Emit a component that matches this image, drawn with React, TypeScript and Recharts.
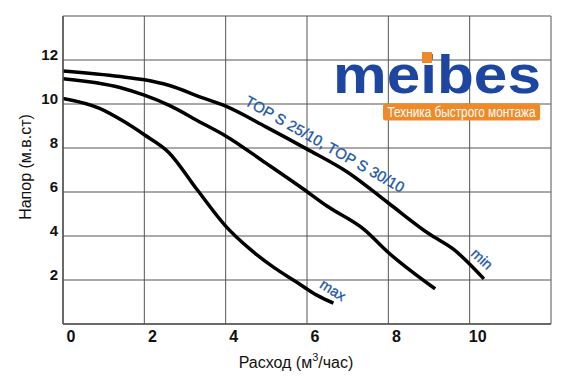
import React from "react";
import { LineChart, Line, XAxis, YAxis, CartesianGrid, Customized } from "recharts";

// Flow (m3/h) and head (m)
const minFlow = [0, 1.4, 2, 2.6, 3.4, 4, 5, 6, 7, 8, 9, 9.6, 10.35];
const minHead = [11.5, 11.25, 11.1, 10.85, 10.3, 9.9, 8.95, 7.95, 6.9, 5.5, 4.1, 3.4, 2.05];

const midFlow = [0, 1.4, 2, 2.6, 3.4, 4, 5, 5.9, 6.5, 7.4, 8, 9.15];
const midHead = [11.15, 10.75, 10.4, 9.95, 9.15, 8.55, 7.3, 6.15, 5.35, 4.3, 3.25, 1.6];

const maxFlow = [0, 0.9, 1.5, 2, 2.6, 3.3, 4, 4.6, 5.2, 5.75, 6.25, 6.65];
const maxHead = [10.25, 9.8, 9.2, 8.6, 7.8, 6.1, 4.45, 3.4, 2.55, 1.9, 1.3, 0.95];

const xTicks = [0, 2, 4, 6, 8, 10, 12];
const xTickLabels = ["0", "2", "4", "6", "8", "10", ""];
const yTicks = [0, 2, 4, 6, 8, 10, 12, 14];
const yTickLabels = ["", "2", "4", "6", "8", "10", "12", ""];

const toRows = (xs: number[], ys: number[]) => xs.map((x, i) => ({ x, y: ys[i] }));
const minData = toRows(minFlow, minHead);
const midData = toRows(midFlow, midHead);
const maxData = toRows(maxFlow, maxHead);

const FONT = "'Liberation Sans', Arial, sans-serif";
const BLUE = "#1a55a8";
const LOGO_BLUE = "#1c46a0";
const ORANGE = "#f08a28";

const XTick = (props: any) => {
  const { x, y, payload } = props;
  const idx = xTicks.indexOf(payload.value);
  const label = idx >= 0 ? xTickLabels[idx] : "";
  if (!label) return null;
  return (
    <text x={x + 8} y={y + 18} textAnchor="middle" fontFamily={FONT} fontWeight="bold" fontSize={16} fill="#111">
      {label}
    </text>
  );
};

const YTick = (props: any) => {
  const { x, y, payload } = props;
  const idx = yTicks.indexOf(payload.value);
  const label = idx >= 0 ? yTickLabels[idx] : "";
  if (!label) return null;
  return (
    <text x={x - 5} y={y} textAnchor="end" fontFamily={FONT} fontWeight="bold" fontSize={15} fill="#111">
      {label}
    </text>
  );
};

const Overlay = () => (
  <g>
    {/* axis titles */}
    <text
      transform="translate(25,167) rotate(-90)"
      textAnchor="middle"
      dominantBaseline="central"
      fontFamily={FONT}
      fontSize={16}
      fill="#111"
    >
      Напор (м.в.ст)
    </text>
    <text x={296} y={368} textAnchor="middle" fontFamily={FONT} fontSize={16} fill="#111">
      Расход (м
      <tspan dy={-7} fontSize={11}>3</tspan>
      <tspan dy={7}>/час)</tspan>
    </text>

    {/* curve annotations */}
    <text transform="translate(325,144) rotate(29.5)" textAnchor="middle" dominantBaseline="central" fontFamily={FONT} fontSize={15} fill={BLUE} stroke={BLUE} strokeWidth={0.3}>
      TOP S 25/10, TOP S 30/10
    </text>
    <text transform="translate(482,259) rotate(43)" textAnchor="middle" dominantBaseline="central" fontFamily={FONT} fontSize={14.5} fill={BLUE} stroke={BLUE} strokeWidth={0.3}>
      min
    </text>
    <text transform="translate(333,290) rotate(32)" textAnchor="middle" dominantBaseline="central" fontFamily={FONT} fontSize={14.5} fill={BLUE} stroke={BLUE} strokeWidth={0.3}>
      max
    </text>

    {/* logo */}
    <text x={333} y={93} fontFamily={FONT} fontWeight="bold" fontSize={54} fill={LOGO_BLUE} textLength={208} lengthAdjust="spacingAndGlyphs">
      meibes
    </text>
    <rect x={422} y={52} width={10} height={11} fill={ORANGE} />
    <rect x={383} y={103.5} width={157} height={17} rx={2.5} fill={ORANGE} />
    <text x={461.5} y={116.5} textAnchor="middle" fontFamily={FONT} fontSize={14} fill="#fff" textLength={148} lengthAdjust="spacingAndGlyphs">
      Техника быстрого монтажа
    </text>
  </g>
);

export default function App() {
  return (
    <div style={{ position: "absolute", left: 0, top: 0, background: "#fff" }}>
      <LineChart width={567} height={382} margin={{ top: 16, right: 16, bottom: 0, left: 0 }}>
        <CartesianGrid stroke="#555" strokeWidth={1} />
        <XAxis
          type="number"
          dataKey="x"
          domain={[0, 12]}
          ticks={xTicks}
          interval={0}
          height={58}
          tickSize={0}
          tickMargin={0}
          tick={<XTick />}
          axisLine={{ stroke: "#555", strokeWidth: 1.5 }}
          allowDataOverflow
        />
        <YAxis
          type="number"
          dataKey="y"
          domain={[0, 14]}
          ticks={yTicks}
          interval={0}
          width={63}
          tickSize={0}
          tickMargin={0}
          tick={<YTick />}
          axisLine={{ stroke: "#555", strokeWidth: 1.5 }}
          allowDataOverflow
        />
        <Line data={minData} dataKey="y" type="monotone" stroke="#000" strokeWidth={3.5} dot={false} isAnimationActive={false} strokeLinejoin="round" />
        <Line data={midData} dataKey="y" type="monotone" stroke="#000" strokeWidth={3.5} dot={false} isAnimationActive={false} strokeLinejoin="round" />
        <Line data={maxData} dataKey="y" type="monotone" stroke="#000" strokeWidth={3.5} dot={false} isAnimationActive={false} strokeLinejoin="round" />
        <Customized component={Overlay} />
      </LineChart>
    </div>
  );
}
